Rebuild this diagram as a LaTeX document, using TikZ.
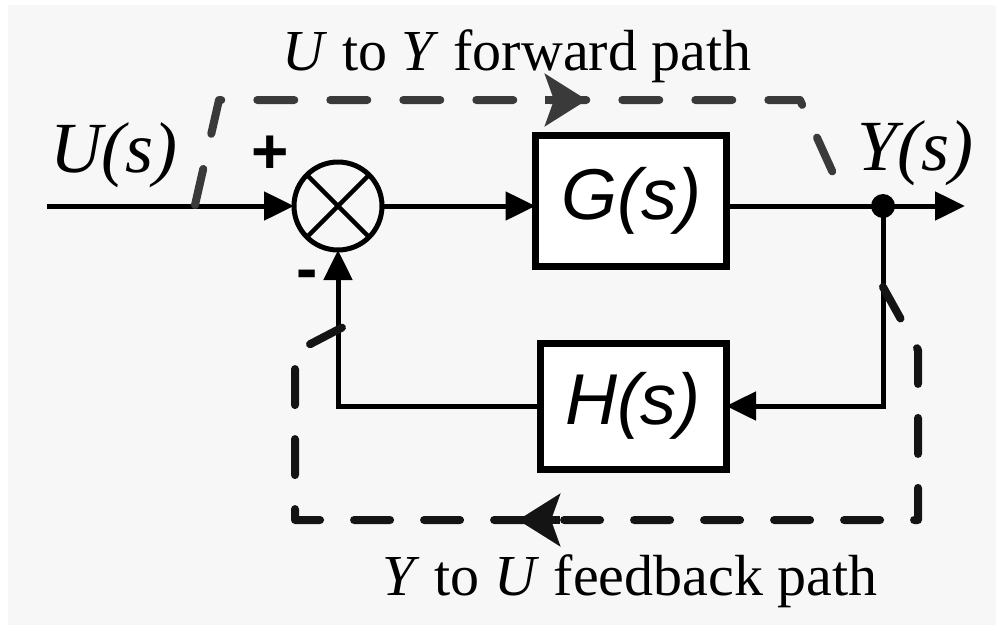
\documentclass[tikz,border=0pt]{standalone}
\usepackage{fontspec}
\setmainfont{Liberation Serif}
\newfontfamily\arialf{Liberation Sans}
\usepackage{tikz}
\usetikzlibrary{calc,arrows.meta,positioning}
\definecolor{pagebg}{HTML}{F7F7F7}
\definecolor{fwdc}{HTML}{3A3A3A}
\definecolor{fbkc}{HTML}{141414}
\tikzset{
  sig/.style={-{Triangle[length=30pt,width=28pt]},line width=5pt},
  blk/.style={draw,line width=7pt,fill=white,inner sep=0pt,outer sep=0pt,font=\fontsize{72}{72}\selectfont\arialf\itshape},
  sumj/.style={draw,circle,line width=5pt,fill=pagebg,minimum size=88pt,inner sep=0pt,outer sep=0pt},
  fwd/.style={fwdc,line width=8pt,line cap=round,line join=round,dash pattern=on 37pt off 36pt},
  fbk/.style={fbkc,line width=8pt,line cap=round,line join=round,dash pattern=on 36pt off 34pt},
  ptip/.style={-{Stealth[length=42pt,width=52pt,inset=9pt]},line width=8pt},
  sgn/.style={font=\fontsize{64}{64}\selectfont\arialf\bfseries},
  lbl/.style={font=\fontsize{72}{72}\selectfont\itshape,anchor=base},
  pathtxt/.style={font=\fontsize{58}{58}\selectfont,anchor=base}
}
\begin{document}
\begin{tikzpicture}[x=1pt,y=-1pt]
\useasboundingbox (0,0) rectangle (996,625);
\fill[pagebg] (8,5) rectangle (996,625);
\node[sumj] (sum) at (338,206) {};
\draw[line width=4.5pt] (sum.45)--(sum.225) (sum.135)--(sum.-45);
\node[blk,minimum width=191pt,minimum height=131pt] (G) at (631,201) {G(s)};
\node[blk,minimum width=186pt,minimum height=126pt] (H) at (633,406) {H(s)};
\coordinate (uin) at (47,206);
\coordinate (yout) at (965,206);
\fill (883,206) circle (12pt) coordinate (dot);
\draw[sig] (uin) -- (sum.west);
\draw[sig] (sum.east) -- (sum.east -| G.west);
\draw[sig] (dot -| G.east) -- (yout);
\draw[sig] (dot) |- (H.east);
\draw[sig] (H.west) -| (sum.south);
\node[lbl] (ulab) at (114,172) {U(s)};
\node[lbl] (ylab) at (915,170) {Y(s)};
\node[sgn] (plus) at (270,155) {+};
\node[sgn] (minus) at (307,280) {-};
\draw[fwd] (195,205) -- (219,100) -- (800,100) -- (847,204);
\draw[ptip,fwdc] (545,100) -- (587,100);
\draw[fbk] (883,287) -- (918,350) -- (918,520) -- (295,520) -- (295,352) -- (345,326);
\draw[ptip,fbkc] (560,520) -- (518,520);
\node[pathtxt] (ftxt) at (517,70) {\textit{U} to \textit{Y} forward path};
\node[pathtxt] (btxt) at (630,595) {\textit{Y} to \textit{U} feedback path};
\end{tikzpicture}
\end{document}
